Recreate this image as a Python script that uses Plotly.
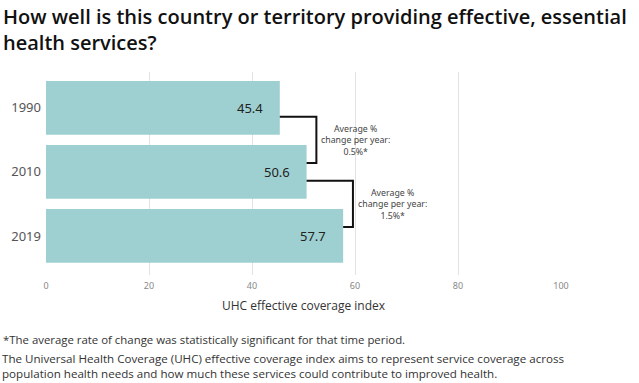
import plotly.graph_objects as go

years = ["1990", "2010", "2019"]
values = [45.4, 50.6, 57.7]
change_labels = ["0.5%*", "1.5%*"]
x_ticks = [0, 20, 40, 60, 80, 100]

title_text = "How well is this country or territory providing effective, essential<br>health services?"
x_title = "UHC effective coverage index"
note1 = "*The average rate of change was statistically significant for that time period."
note2 = ("The Universal Health Coverage (UHC) effective coverage index aims to represent service coverage across<br>"
         "population health needs and how much these services could contribute to improved health.")

SANS = "Noto Sans, sans-serif"
W, H = 639, 383
L, R, T, B = 46, 78, 72, 108
pw, ph = W - L - R, H - T - B

def px_x(p):
    return (p - L) / pw

def px_y(p):
    return (H - B - p) / ph

fig = go.Figure()
fig.add_trace(go.Bar(
    y=years, x=values, orientation="h",
    marker=dict(color="#9fd0d1", line=dict(width=0)),
    hoverinfo="skip",
))

shapes = []
annotations = []
for i, v in enumerate(values):
    annotations.append(dict(x=v, y=i, xref="x", yref="y", xanchor="right",
                            xshift=-15, showarrow=False, text=f"{v:.1f}",
                            font=dict(family=SANS, size=13, color="#222222")))
txt_font = dict(family=SANS, size=8.8, color="#444444")
for i in range(len(values) - 1):
    bx = max(values[i], values[i + 1]) + 1.9
    y0 = i + 0.14
    y1 = i + 0.86
    cx = bx + 7.6
    # white backing that interrupts gridlines behind the label
    shapes.append(dict(type="rect", xref="x", yref="y", layer="below",
                       x0=cx - 6.6, x1=cx + 6.6, y0=i - 0.02, y1=i + 1.0,
                       fillcolor="white", line=dict(width=0)))
    path = f"M {values[i]},{y0} L {bx},{y0} L {bx},{y1} L {values[i+1]},{y1}"
    shapes.append(dict(type="path", path=path, xref="x", yref="y",
                       line=dict(color="#111111", width=2)))
    annotations.append(dict(x=cx, y=i + 0.51, xref="x", yref="y",
                            text=f"Average %<br>change per year:<br>{change_labels[i]}",
                            showarrow=False, align="center", font=txt_font))

annotations.append(dict(x=px_x(1), y=px_y(1), xref="paper", yref="paper",
                        xanchor="left", yanchor="top", align="left", showarrow=False,
                        text=title_text,
                        font=dict(family="Open Sans", size=20, color="#111111", weight=600)))
annotations.append(dict(x=px_x(1), y=px_y(339.5), xref="paper", yref="paper",
                        xanchor="left", yanchor="middle", align="left", showarrow=False,
                        text=note1,
                        font=dict(family="Open Sans", size=11.4, color="#333333")))
annotations.append(dict(x=px_x(1), y=px_y(350), xref="paper", yref="paper",
                        xanchor="left", yanchor="top", align="left", showarrow=False,
                        text=note2, borderpad=0,
                        font=dict(family="Open Sans", size=11.6, color="#333333")))

fig.update_layout(
    width=W, height=H,
    margin=dict(l=L, r=R, t=T, b=B, pad=0),
    paper_bgcolor="white", plot_bgcolor="white",
    showlegend=False, bargap=0.16,
    shapes=shapes, annotations=annotations,
    xaxis=dict(range=[0, 100], tickvals=x_ticks, showgrid=True, gridcolor="#e2e2e2",
               gridwidth=1, zeroline=False, showline=False, ticks="",
               ticklabelstandoff=4,
               tickfont=dict(family=SANS, size=9, color="#888888"),
               title=dict(text=x_title, standoff=10,
                          font=dict(family="Open Sans", size=12, color="#333333"))),
    yaxis=dict(type="category", categoryorder="array", categoryarray=years,
               range=[2.61, -0.56], showgrid=False, zeroline=False, showline=False,
               ticks="", ticklabelstandoff=4,
               tickfont=dict(family=SANS, size=13, color="#555555")),
)

fig.write_html("out.html", config={"displayModeBar": False},
               post_script="document.body.style.margin='0';document.body.style.overflow='hidden';")
